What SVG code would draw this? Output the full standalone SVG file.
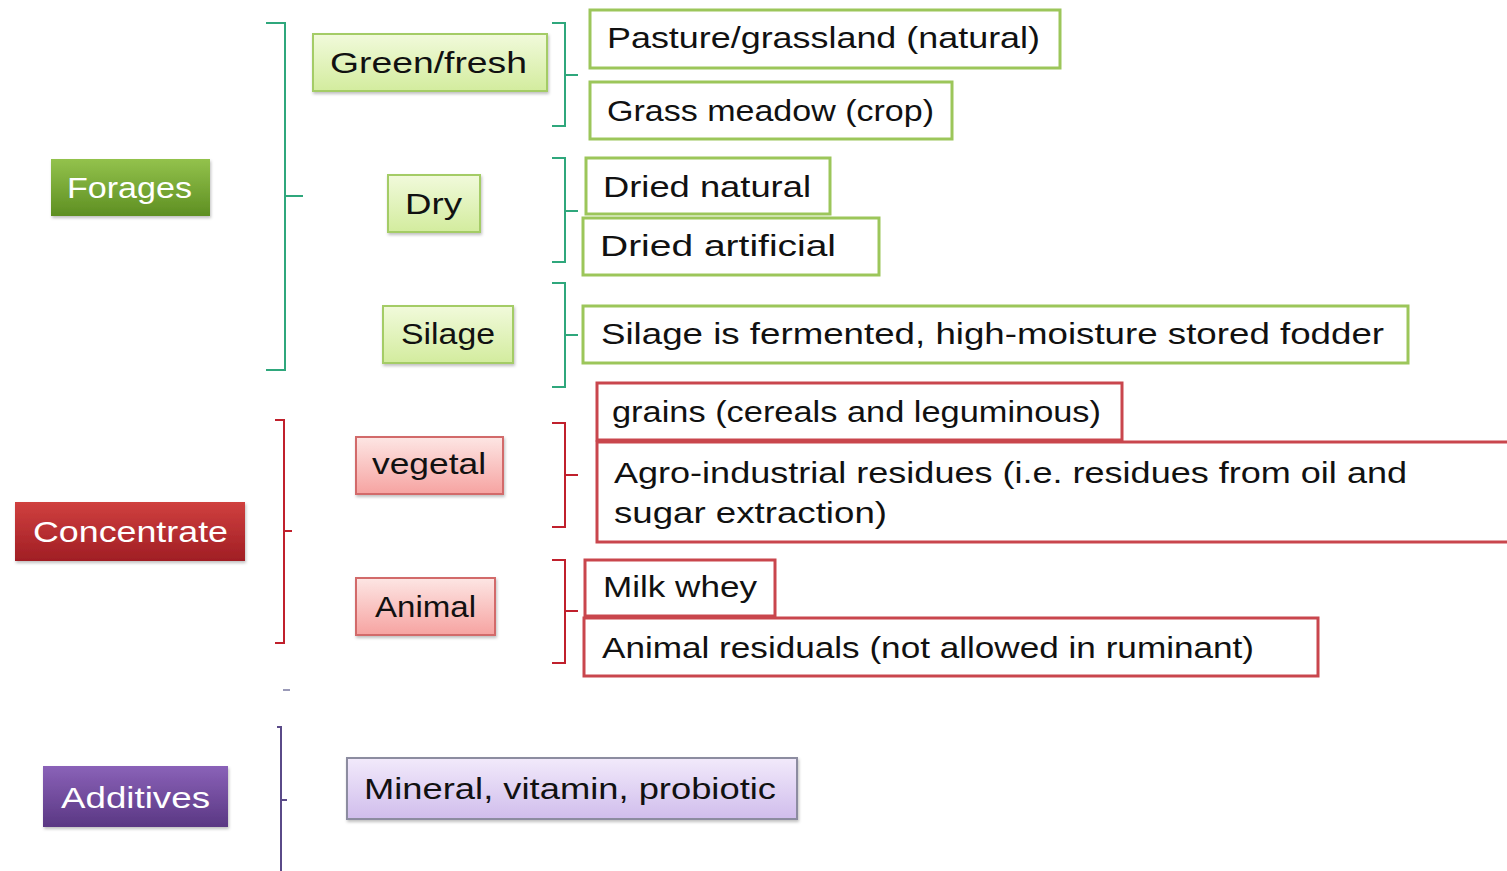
<svg xmlns="http://www.w3.org/2000/svg" width="1507" height="871" viewBox="0 0 1507 871">
<defs>
<linearGradient id="gF" x1="0" y1="0" x2="0" y2="1"><stop offset="0" stop-color="#93c24c"/><stop offset="1" stop-color="#5e8f22"/></linearGradient>
<linearGradient id="gC" x1="0" y1="0" x2="0" y2="1"><stop offset="0" stop-color="#d0403f"/><stop offset="1" stop-color="#a01e24"/></linearGradient>
<linearGradient id="gA" x1="0" y1="0" x2="0" y2="1"><stop offset="0" stop-color="#8a62b8"/><stop offset="1" stop-color="#5a3783"/></linearGradient>
<linearGradient id="gLG" x1="0" y1="0" x2="0" y2="1"><stop offset="0" stop-color="#f1fadb"/><stop offset="1" stop-color="#d3ec9e"/></linearGradient>
<linearGradient id="gLR" x1="0" y1="0" x2="0" y2="1"><stop offset="0" stop-color="#fde6e4"/><stop offset="1" stop-color="#f6a3a1"/></linearGradient>
<linearGradient id="gLP" x1="0" y1="0" x2="0" y2="1"><stop offset="0" stop-color="#f2eafb"/><stop offset="1" stop-color="#d0bdec"/></linearGradient>
<filter id="sh" x="-10%" y="-10%" width="120%" height="130%"><feDropShadow dx="1" dy="2" stdDeviation="1.5" flood-color="#000" flood-opacity="0.25"/></filter>
</defs>
<style>
text{font-family:"Liberation Sans","DejaVu Sans",sans-serif;font-size:30px;fill:#111;}
.w{fill:#fff;}
.main{stroke:none;filter:url(#sh);}
.catg{fill:url(#gLG);stroke:#a4cc66;stroke-width:2;filter:url(#sh);}
.catr{fill:url(#gLR);stroke:#d26a6a;stroke-width:2;filter:url(#sh);}
.catp{fill:url(#gLP);stroke:#8c8ca0;stroke-width:2;filter:url(#sh);}
.lg{fill:#fff;stroke:#9cc65a;stroke-width:3;}
.lr{fill:#fff;stroke:#c9464d;stroke-width:3;}
.bg{fill:none;stroke:#2fa77c;stroke-width:2;}
.br{fill:none;stroke:#c0202c;stroke-width:2;}
.bp{fill:none;stroke:#5a4a88;stroke-width:2;}
</style>
<rect width="1507" height="871" fill="#fff"/>
<g id="connectors">
<path class="bg" d="M266 23 H285 V370 H266 M285 196 H303"/>
<path class="br" d="M275 420 H284 V643 H275 M284 531 H292"/>
<path d="M283 690 H290" stroke="#9a9ab8" stroke-width="2"/>
<path class="bp" d="M277 727 H281 V871 M281 800 H287"/>
<path class="bg" d="M552 23 H565 V126 H552 M565 75 H578"/>
<path class="bg" d="M552 158 H565 V262 H552 M565 211 H578"/>
<path class="bg" d="M552 283 H565 V387 H552 M565 335 H578"/>
<path class="br" d="M552 423 H565 V527 H552 M565 475 H578"/>
<path class="br" d="M552 560 H565 V663 H552 M565 611 H578"/>
</g>
<g id="forages"><rect class="main" x="51" y="159" width="159" height="57" fill="url(#gF)"/><text class="w" x="67" y="198" textLength="125" lengthAdjust="spacingAndGlyphs">Forages</text></g>
<g id="concentrate"><rect class="main" x="15" y="502" width="230" height="59" fill="url(#gC)"/><text class="w" x="33" y="542" textLength="195" lengthAdjust="spacingAndGlyphs">Concentrate</text></g>
<g id="additives"><rect class="main" x="43" y="766" width="185" height="61" fill="url(#gA)"/><text class="w" x="61" y="808" textLength="149" lengthAdjust="spacingAndGlyphs">Additives</text></g>
<g id="green-fresh"><rect class="catg" x="313" y="34" width="234" height="57"/><text x="330" y="73" textLength="197" lengthAdjust="spacingAndGlyphs">Green/fresh</text></g>
<g id="dry"><rect class="catg" x="388" y="175" width="92" height="57"/><text x="405" y="214" textLength="57" lengthAdjust="spacingAndGlyphs">Dry</text></g>
<g id="silage"><rect class="catg" x="383" y="306" width="130" height="57"/><text x="401" y="344" textLength="94" lengthAdjust="spacingAndGlyphs">Silage</text></g>
<g id="vegetal"><rect class="catr" x="356" y="437" width="147" height="57"/><text x="372" y="474" textLength="114" lengthAdjust="spacingAndGlyphs">vegetal</text></g>
<g id="animal"><rect class="catr" x="356" y="578" width="139" height="57"/><text x="375" y="617" textLength="101" lengthAdjust="spacingAndGlyphs">Animal</text></g>
<g id="mineral"><rect class="catp" x="347" y="758" width="450" height="61"/><text x="364" y="799" textLength="412" lengthAdjust="spacingAndGlyphs">Mineral, vitamin, probiotic</text></g>
<g id="pasture"><rect class="lg" x="590" y="10" width="470" height="58"/><text x="607" y="48" textLength="433" lengthAdjust="spacingAndGlyphs">Pasture/grassland (natural)</text></g>
<g id="meadow"><rect class="lg" x="590" y="82" width="362" height="57"/><text x="607" y="121" textLength="327" lengthAdjust="spacingAndGlyphs">Grass meadow (crop)</text></g>
<g id="dried-natural"><rect class="lg" x="586" y="158" width="244" height="56"/><text x="603" y="197" textLength="208" lengthAdjust="spacingAndGlyphs">Dried natural</text></g>
<g id="dried-artificial"><rect class="lg" x="583" y="218" width="296" height="57"/><text x="600" y="256" textLength="236" lengthAdjust="spacingAndGlyphs">Dried artificial</text></g>
<g id="silage-def"><rect class="lg" x="583" y="306" width="825" height="57"/><text x="601" y="344" textLength="783" lengthAdjust="spacingAndGlyphs">Silage is fermented, high-moisture stored fodder</text></g>
<g id="agro"><rect class="lr" x="597" y="442" width="915" height="100"/><text x="614" y="483" textLength="793" lengthAdjust="spacingAndGlyphs">Agro-industrial residues (i.e. residues from oil and</text><text x="614" y="523" textLength="273" lengthAdjust="spacingAndGlyphs">sugar extraction)</text></g>
<g id="grains"><rect class="lr" x="597" y="383" width="525" height="57"/><text x="612" y="422" textLength="489" lengthAdjust="spacingAndGlyphs">grains (cereals and leguminous)</text></g>
<g id="milk-whey"><rect class="lr" x="585" y="560" width="190" height="56"/><text x="603" y="597" textLength="154" lengthAdjust="spacingAndGlyphs">Milk whey</text></g>
<g id="animal-residuals"><rect class="lr" x="584" y="618" width="734" height="58"/><text x="602" y="658" textLength="652" lengthAdjust="spacingAndGlyphs">Animal residuals (not allowed in ruminant)</text></g>
</svg>
